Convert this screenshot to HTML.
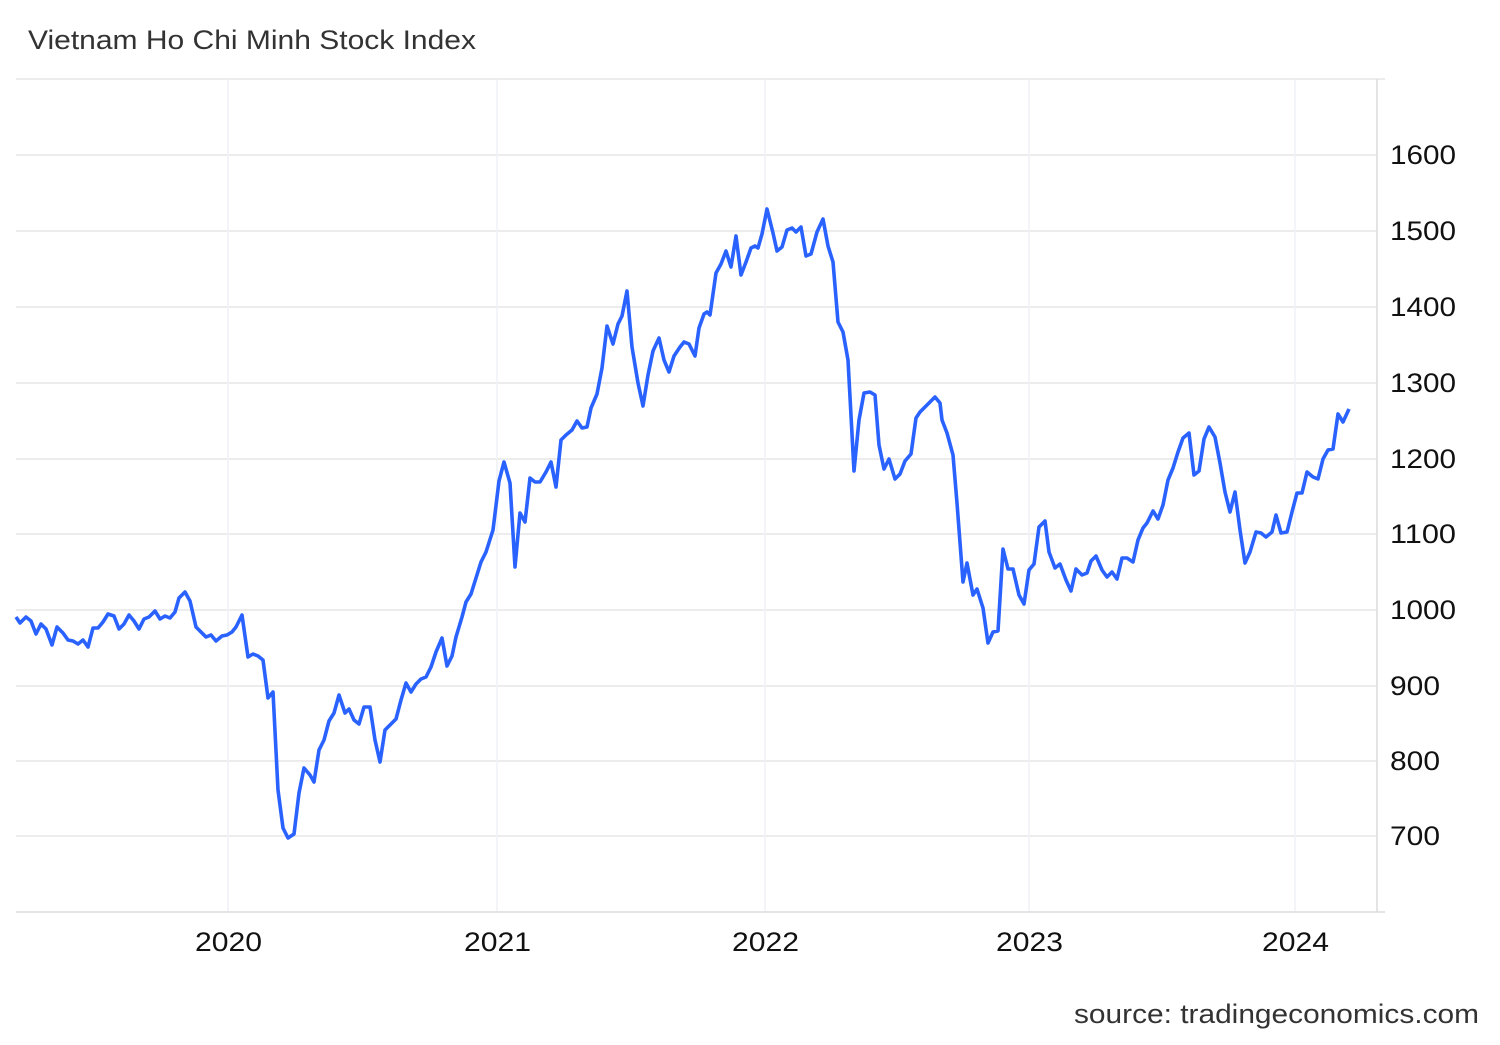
<!DOCTYPE html>
<html><head><meta charset="utf-8"><style>
html,body{margin:0;padding:0;background:#fff;}
body{width:1500px;height:1040px;overflow:hidden;font-family:"Liberation Sans",Arial,sans-serif;}
</style></head><body>
<svg width="1500" height="1040" xmlns="http://www.w3.org/2000/svg" font-family="Liberation Sans, Arial, sans-serif">
<text x="28" y="49" font-size="27" fill="#333" textLength="448" lengthAdjust="spacingAndGlyphs">Vietnam Ho Chi Minh Stock Index</text>
<g stroke="#e6e6e6" stroke-width="1.5">
<line x1="16" y1="79" x2="1385" y2="79"/>
<line x1="16" y1="155" x2="1377" y2="155"/>
<line x1="16" y1="231" x2="1377" y2="231"/>
<line x1="16" y1="307" x2="1377" y2="307"/>
<line x1="16" y1="383" x2="1377" y2="383"/>
<line x1="16" y1="459" x2="1377" y2="459"/>
<line x1="16" y1="534" x2="1377" y2="534"/>
<line x1="16" y1="610" x2="1377" y2="610"/>
<line x1="16" y1="686" x2="1377" y2="686"/>
<line x1="16" y1="761" x2="1377" y2="761"/>
<line x1="16" y1="836" x2="1377" y2="836"/>
</g>
<g stroke="#eef1f5" stroke-width="1.5">
<line x1="228" y1="79" x2="228" y2="912"/>
<line x1="497" y1="79" x2="497" y2="912"/>
<line x1="765" y1="79" x2="765" y2="912"/>
<line x1="1029" y1="79" x2="1029" y2="912"/>
<line x1="1295" y1="79" x2="1295" y2="912"/>
</g>
<line x1="16" y1="912" x2="1385" y2="912" stroke="#dcdcdc" stroke-width="1.5"/>
<line x1="1377" y1="79" x2="1377" y2="912" stroke="#dcdcdc" stroke-width="1.5"/>
<g font-size="27" fill="#111">
<text x="1390" y="164" textLength="66" lengthAdjust="spacingAndGlyphs">1600</text><text x="1390" y="240" textLength="66" lengthAdjust="spacingAndGlyphs">1500</text><text x="1390" y="316" textLength="66" lengthAdjust="spacingAndGlyphs">1400</text>
<text x="1390" y="392" textLength="66" lengthAdjust="spacingAndGlyphs">1300</text><text x="1390" y="468" textLength="66" lengthAdjust="spacingAndGlyphs">1200</text><text x="1390" y="543" textLength="66" lengthAdjust="spacingAndGlyphs">1100</text>
<text x="1390" y="619" textLength="66" lengthAdjust="spacingAndGlyphs">1000</text><text x="1390" y="695" textLength="50" lengthAdjust="spacingAndGlyphs">900</text><text x="1390" y="770" textLength="50" lengthAdjust="spacingAndGlyphs">800</text>
<text x="1390" y="845" textLength="50" lengthAdjust="spacingAndGlyphs">700</text>
</g>
<g font-size="27" fill="#111">
<text x="195" y="951" textLength="67" lengthAdjust="spacingAndGlyphs">2020</text><text x="464" y="951" textLength="67" lengthAdjust="spacingAndGlyphs">2021</text><text x="732" y="951" textLength="67" lengthAdjust="spacingAndGlyphs">2022</text>
<text x="996" y="951" textLength="67" lengthAdjust="spacingAndGlyphs">2023</text><text x="1262" y="951" textLength="67" lengthAdjust="spacingAndGlyphs">2024</text>
</g>
<text x="1074" y="1023" font-size="27" fill="#333" textLength="405" lengthAdjust="spacingAndGlyphs">source: tradingeconomics.com</text>
<polyline fill="none" stroke="#2962ff" stroke-width="3.6" stroke-linejoin="round" points="
16,617 20,623 26,617 31,621 36,634 41,624 46,629 52,645 57,627 63,633 68,640 73,641 78,644 83,640 88,647 93,628 98,628 103,622 108,614 114,616 119,629 124,624 129,615 134,621 139,629 144,619 149,617 155,611 160,619 165,616 170,618 175,612 179,598 185,592 190,601 196,627 201,632 206,637 211,635 216,641 222,636 227,635 232,632 236,627 242,615 248,657 253,654 258,656 263,660 268,698 273,692 278,790 283,828 288,838 294,834 299,793 304,768 310,775 314,782 319,750 324,740 329,721 334,713 339,695 345,713 349,709 354,720 359,724 364,707 370,707 375,740 380,762 385,730 390,725 396,719 401,700 406,683 411,692 416,684 421,679 426,677 431,667 436,652 442,638 447,666 452,656 456,637 462,617 466,602 471,594 476,578 481,562 486,552 493,530 499,481 504,462 510,483 515,567 520,513 525,522 530,478 535,482 540,482 546,472 551,462 556,487 561,440 566,435 572,430 577,421 582,428 587,427 591,408 597,394 602,368 607,326 613,344 618,324 622,316 627,291 632,347 638,383 643,406 648,375 653,351 659,338 664,360 669,372 674,356 680,347 684,342 689,344 695,356 699,328 704,314 707,312 710,315 716,273 721,264 726,251 731,267 736,236 741,275 746,262 751,248 755,246 758,248 762,234 767,209 773,233 777,251 782,247 787,230 792,228 796,232 801,227 806,256 811,254 817,232 823,219 828,246 833,262 838,322 843,332 848,360 854,471 859,420 864,393 870,392 875,395 879,445 884,469 889,459 895,479 900,474 905,461 911,454 916,418 920,412 925,407 929,403 935,397 940,403 942,420 947,433 953,455 957,503 963,582 967,563 973,595 977,589 983,608 988,643 993,632 998,631 1003,549 1008,569 1013,569 1019,595 1024,604 1029,570 1034,564 1039,527 1045,521 1049,552 1055,568 1060,564 1066,580 1071,591 1076,569 1082,575 1087,573 1091,561 1096,556 1102,570 1107,577 1112,572 1117,579 1122,558 1127,558 1133,562 1138,540 1143,528 1147,523 1153,511 1158,519 1163,505 1168,480 1173,468 1178,452 1183,438 1189,433 1194,475 1199,471 1204,439 1209,427 1215,437 1220,463 1225,492 1230,512 1235,492 1240,530 1245,563 1250,552 1256,532 1261,533 1266,537 1272,532 1276,515 1281,533 1287,532 1292,512 1297,493 1302,493 1307,472 1313,477 1318,479 1323,459 1328,450 1333,449 1338,414 1343,422 1349,409"/>
</svg>
</body></html>
